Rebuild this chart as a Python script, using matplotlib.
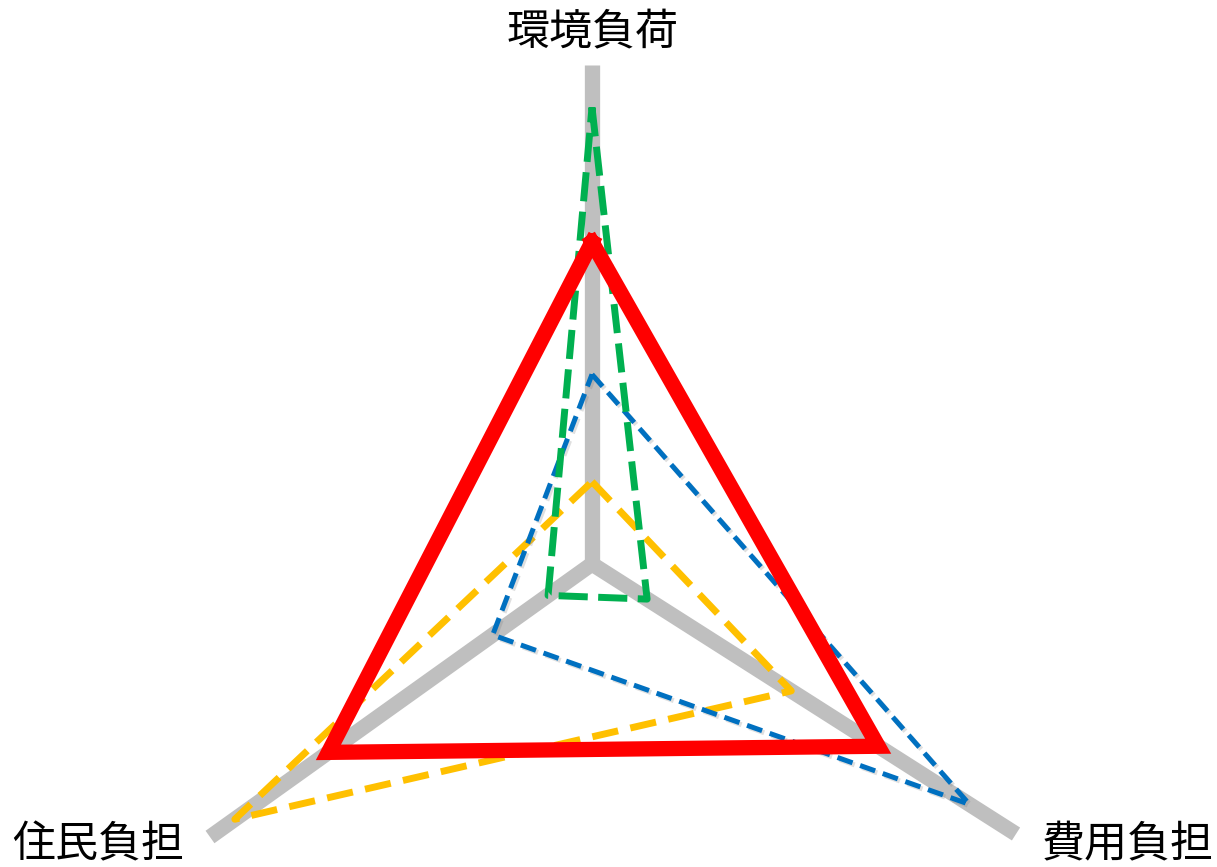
import numpy as np
import matplotlib
matplotlib.use("Agg")
import matplotlib.pyplot as plt
import matplotlib.patheffects as pe

plt.rcParams['font.family'] = ['Noto Sans CJK JP', 'DejaVu Sans']

# Data
categories = ["環境負荷", "費用負担", "住民負担"]
red_values = [0.645, 0.675, 0.69]
green_values = [0.915, 0.13, 0.115]
blue_values = [0.38, 0.89, 0.26]
yellow_values = [0.165, 0.47, 0.935]

# Layout (pixel space): chart centre and axis end vectors
W, H = 1217, 867
center = np.array([592.0, 564.0])
axis_vecs = np.array([[0.0, -499.0], [424.0, 270.0], [-382.0, 273.0]])

fig = plt.figure(figsize=(W / 100, H / 100), dpi=100)
ax = fig.add_axes([0, 0, 1, 1])
ax.set_xlim(0, W)
ax.set_ylim(H, 0)
ax.axis('off')

# axes spokes
for v in axis_vecs:
    p = center + v
    ax.plot([center[0], p[0]], [center[1], p[1]], color='#BFBFBF', lw=11,
            solid_capstyle='butt', zorder=1)

def poly(values):
    pts = center + np.array(values)[:, None] * axis_vecs
    pts = np.vstack([pts, pts[:1]])
    return pts[:, 0], pts[:, 1]

x, y = poly(yellow_values)
ax.plot(x, y, color='#FFC000', lw=5, dashes=(3.8, 1.8), zorder=2)
x, y = poly(blue_values)
ax.plot(x, y, color='#0070C0', lw=3.6, dashes=(3.2, 1.6), zorder=3,
        path_effects=[pe.SimpleLineShadow(offset=(1.5, -1.5), alpha=0.25, shadow_color='gray'),
                      pe.Normal()])
x, y = poly(green_values)
ax.plot(x, y, color='#00B050', lw=5, dashes=(4.2, 1.5), zorder=4)
x, y = poly(red_values)
ax.plot(x, y, color='#FF0000', lw=11, solid_joinstyle='miter', zorder=5)

# labels
ax.text(593, 33, categories[0], ha='center', va='center', fontsize=31, color='black')
ax.text(1214, 845, categories[1], ha='right', va='center', fontsize=31, color='black')
ax.text(12, 845, categories[2], ha='left', va='center', fontsize=31, color='black')

fig.savefig('out.png', dpi=100)
